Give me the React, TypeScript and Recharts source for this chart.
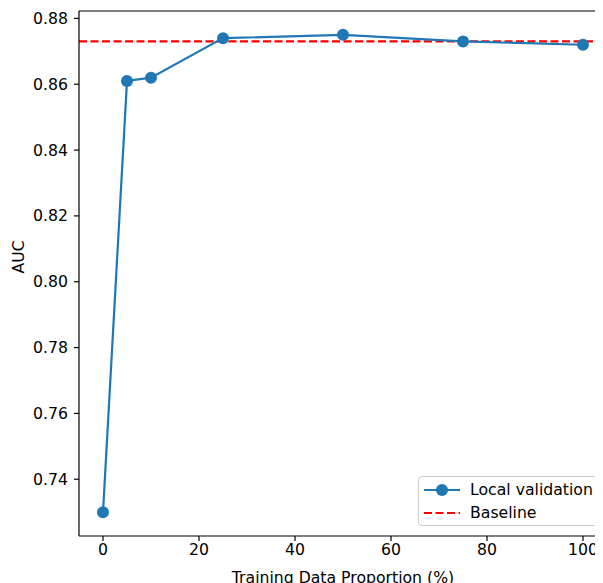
import React from 'react';
import { LineChart, Line, XAxis, YAxis, ReferenceLine } from 'recharts';

const proportions = [0, 5, 10, 25, 50, 75, 100];
const aucValues = [0.730, 0.861, 0.862, 0.874, 0.875, 0.873, 0.872];
const baselineAuc = 0.873;
const xTicks = [0, 20, 40, 60, 80, 100];
const yTicks = [0.74, 0.76, 0.78, 0.80, 0.82, 0.84, 0.86, 0.88];

const data = proportions.map((p, i) => ({ p, auc: aucValues[i] }));

const FONT = 'DejaVu Sans, sans-serif';
const FS = 15.7;
const Y_MIN = 0.72275;
const Y_MAX = 0.88225;

const LegendBox = () => (
  <div
    style={{
      position: 'absolute',
      left: 410,
      top: 468,
      border: '1px solid #cccccc',
      borderRadius: 4,
      background: 'rgba(255,255,255,0.85)',
      padding: '1px 8px 1px 4px',
      fontFamily: FONT,
      fontSize: FS,
      color: '#000',
      lineHeight: '23px',
      whiteSpace: 'nowrap',
    }}
  >
    <div style={{ display: 'flex', alignItems: 'center' }}>
      <svg width={38} height={14} style={{ marginRight: 9 }}>
        <line x1={1} y1={7} x2={37} y2={7} stroke="#1f77b4" strokeWidth={2.2} />
        <circle cx={19} cy={7} r={6} fill="#1f77b4" />
      </svg>
      <span>Local validation</span>
    </div>
    <div style={{ display: 'flex', alignItems: 'center' }}>
      <svg width={38} height={14} style={{ marginRight: 9 }}>
        <line x1={1} y1={7} x2={37} y2={7} stroke="#ff0000" strokeWidth={2.2} strokeDasharray="8 3.5" />
      </svg>
      <span>Baseline</span>
    </div>
  </div>
);

export default function App() {
  return (
    <div style={{ position: 'relative', width: 595, height: 575, overflow: 'hidden' }}>
      <LineChart
        width={620}
        height={575}
        data={data}
        margin={{ top: 3, right: 21, bottom: 0, left: 10 }}
      >
        <XAxis
          dataKey="p"
          type="number"
          domain={[-5, 105]}
          ticks={xTicks}
          allowDataOverflow
          height={47}
          tickSize={5}
          tickMargin={3}
          stroke="#000"
          tick={{ fill: '#000', fontSize: FS, fontFamily: FONT }}
          axisLine={{ stroke: '#000', strokeWidth: 1.2 }}
          tickLine={{ stroke: '#000', strokeWidth: 1.2 }}
          label={{ value: 'Training Data Proportion (%)', position: 'insideBottom', offset: 0, fill: '#000', fontSize: FS, fontFamily: FONT }}
        />
        <YAxis
          type="number"
          domain={[Y_MIN, Y_MAX]}
          ticks={yTicks}
          allowDataOverflow
          width={61}
          tickSize={5}
          tickMargin={6}
          tickFormatter={(v: number) => v.toFixed(2)}
          stroke="#000"
          tick={{ fill: '#000', fontSize: FS, fontFamily: FONT }}
          axisLine={{ stroke: '#000', strokeWidth: 1.2 }}
          tickLine={{ stroke: '#000', strokeWidth: 1.2 }}
          label={{ value: 'AUC', angle: -90, position: 'insideLeft', offset: 0, dx: 0, fill: '#000', fontSize: FS, fontFamily: FONT }}
        />
        <ReferenceLine y={Y_MAX} stroke="#000" strokeWidth={1.2} />
        <ReferenceLine y={baselineAuc} stroke="#ff0000" strokeWidth={2.2} strokeDasharray="8 3.5" />
        <Line
          type="linear"
          dataKey="auc"
          stroke="#1f77b4"
          strokeWidth={2.2}
          dot={{ r: 6, fill: '#1f77b4', stroke: '#1f77b4', strokeWidth: 0 }}
          activeDot={false}
          isAnimationActive={false}
        />
      </LineChart>
      <LegendBox />
    </div>
  );
}
